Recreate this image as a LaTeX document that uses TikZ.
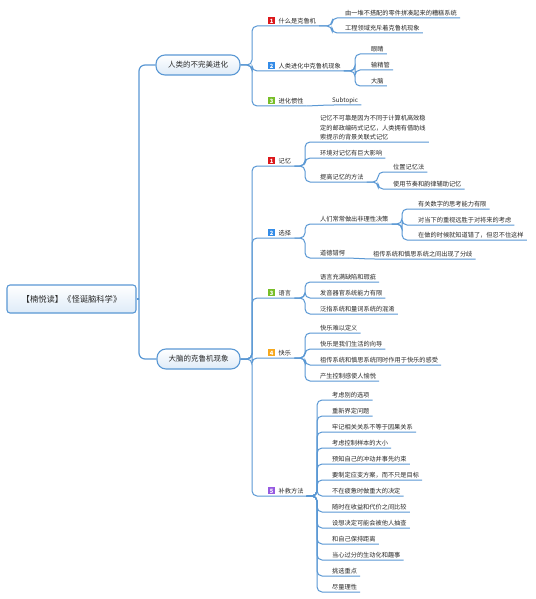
\documentclass[tikz,border=0pt]{standalone}
\usepackage{fontspec}
\setmainfont{Noto Sans CJK SC}
\usetikzlibrary{calc}
\definecolor{lnc}{RGB}{90,152,212}
\definecolor{txc}{RGB}{40,40,40}
\definecolor{ired}{RGB}{220,24,28}
\definecolor{iblue}{RGB}{52,140,232}
\definecolor{igreen}{RGB}{120,190,40}
\definecolor{iorange}{RGB}{246,168,30}
\definecolor{ipurple}{RGB}{150,90,225}
\definecolor{mfill}{RGB}{222,235,248}
\newcommand\icobox[2]{{\setlength{\fboxsep}{0pt}\raisebox{-0.8pt}{\colorbox{#1}{\makebox[7pt][c]{\rule{0pt}{7pt}\raisebox{1.2pt}{\color{white}\fontsize{5.8}{5.8}\selectfont\bfseries #2}}}}}\hspace{3.5pt}}
\newcommand\conA[3]{\draw[con] (#1.south east) -- (#1.south east -| #3) |- (#2.south east);}
\newcommand\conM[3]{\draw[con] (#1.east) -- (#1.east -| #3) |- (#2.south east);}
\tikzset{
  topic/.style={anchor=south west, inner xsep=3pt, inner ysep=2.2pt, text height=5pt, text depth=0pt,
    font=\fontsize{6.2}{7.5}\selectfont, text=txc},
  con/.style={draw=lnc, line width=1pt, rounded corners=5pt},
  mainbox/.style={draw=lnc, line width=1.1pt, rounded corners=9pt, top color=white, bottom color=mfill,
    minimum height=20pt, font=\fontsize{7.5}{9}\selectfont, text=txc, inner sep=0pt},
  rootbox/.style={draw=lnc, line width=1.1pt, rounded corners=3pt, top color=white, bottom color=mfill,
    minimum width=129pt, minimum height=28pt, font=\fontsize{8.3}{10}\selectfont, text=txc, inner sep=0pt}
}
\begin{document}
\begin{tikzpicture}[x=1pt,y=-1pt]
\useasboundingbox (0,0) rectangle (535,599);
\fill[white] (0,0) rectangle (535,599);
% trunk coordinates
\coordinate (t0) at (139,0);
\coordinate (t1) at (252,0);
\coordinate (t2) at (252,0);
\coordinate (tA1) at (332,0);
\coordinate (tA2) at (355,0);
\coordinate (tB) at (305,0);
\coordinate (tB13) at (378,0);
\coordinate (tB21) at (402,0);
\coordinate (tB5) at (317,0);
% root and main nodes
\node[rootbox] (R) at (71.5,299) {【楠悦读】《怪诞脑科学》};
\node[mainbox, minimum width=84pt] (M1) at (198,65) {人类的不完美进化};
\node[mainbox, minimum width=83pt] (M2) at (198.5,359) {大脑的克鲁机现象};
% main 1 branch
\node[topic] (A1) at (265,26) {\icobox{ired}{1}什么是克鲁机};
\node[topic] (A11) at (342,18) {由一堆不搭配的零件拼凑起来的糟糕系统};
\node[topic] (A12) at (342,33) {工程领域充斥着克鲁机现象};
\node[topic] (A2) at (265,71) {\icobox{iblue}{2}人类进化中克鲁机现象};
\node[topic] (A21) at (368,54) {眼睛};
\node[topic] (A22) at (368,70) {输精管};
\node[topic] (A23) at (368,86) {大脑};
\node[topic] (A3) at (265,106) {\icobox{igreen}{3}进化惯性};
\node[topic] (A31) at (329,105) {Subtopic};
% main 2 branch
\node[topic] (B1) at (265,166) {\icobox{ired}{1}记忆};
\node[anchor=south west, inner xsep=3pt, inner ysep=2.2pt, text depth=0pt, align=left,
  font=\fontsize{6.2}{9.6}\selectfont, text=txc] (B11) at (317,142)
  {记忆不可靠是因为不同于计算机高效稳\\定的邮政编码式记忆，人类拥有借助线\\索提示的背景关联式记忆};
\node[topic] (B12) at (317,158) {环境对记忆有巨大影响};
\node[topic] (B13) at (317,182) {提高记忆的方法};
\node[topic] (B131) at (390,172) {位置记忆法};
\node[topic] (B132) at (390,189) {使用节奏和韵律辅助记忆};
\node[topic] (B2) at (265,238) {\icobox{iblue}{2}选择};
\node[topic] (B21) at (317,224) {人们常常做出非理性决策};
\node[topic] (B211) at (415,209) {有关数字的思考能力有限};
\node[topic] (B212) at (415,225) {对当下的重视远胜于对将来的考虑};
\node[topic] (B213) at (415,240) {在做的时候就知道错了，但忍不住这样};
\node[topic] (B22) at (317,258) {道德错愕};
\node[topic] (B221) at (370,259) {祖传系统和慎思系统之间出现了分歧};
\node[topic] (B3) at (265,298) {\icobox{igreen}{3}语言};
\node[topic] (B31) at (317,282) {语言充满缺陷和瑕疵};
\node[topic] (B32) at (317,298) {发音器官系统能力有限};
\node[topic] (B33) at (317,314) {泛指系统和量词系统的混淆};
\node[topic] (B4) at (265,358) {\icobox{iorange}{4}快乐};
\node[topic] (B41) at (317,333) {快乐难以定义};
\node[topic] (B42) at (317,349) {快乐是我们生活的向导};
\node[topic] (B43) at (317,365) {祖传系统和慎思系统同时作用于快乐的感受};
\node[topic] (B44) at (317,381) {产生控制感使人愉悦};
\node[topic] (B5) at (265,496) {\icobox{ipurple}{5}补救方法};
\foreach \n/\t [count=\i from 0] in {
  C1/考虑别的选项, C2/重新界定问题, C3/牢记相关关系不等于因果关系, C4/考虑控制样本的大小,
  C5/预知自己的冲动并事先约束, C6/{要制定应变方案，而不只是目标}, C7/不在疲惫时做重大的决定,
  C8/随时在收益和代价之间比较, C9/设想决定可能会被他人抽查, C10/和自己保持距离,
  C11/当心过分的生动化和趣事, C12/挑选重点, C13/尽量理性}
  {\node[topic] (\n) at (329,{400+16*\i}) {\t};}
% root connectors
\draw[con, line width=1.2pt] (R.east) -- (R.east -| t0);
\draw[con, line width=1.2pt, rounded corners=6pt] (R.east -| t0) |- (M1.west);
\draw[con, line width=1.2pt, rounded corners=6pt] (R.east -| t0) |- (M2.west);
% main 1 connectors
\foreach \c in {A1,A2,A3} {\conM{M1}{\c}{t1}}
\foreach \c in {A11,A12} {\conA{A1}{\c}{tA1}}
\foreach \c in {A21,A22,A23} {\conA{A2}{\c}{tA2}}
\draw[con] (A3.south east) -- (A31.south west) -- (A31.south east);
% main 2 connectors
\foreach \c in {B1,B2,B3,B4,B5} {\conM{M2}{\c}{t2}}
\foreach \c in {B11,B12,B13} {\conA{B1}{\c}{tB}}
\foreach \c in {B131,B132} {\conA{B13}{\c}{tB13}}
\foreach \c in {B21,B22} {\conA{B2}{\c}{tB}}
\foreach \c in {B211,B212,B213} {\conA{B21}{\c}{tB21}}
\draw[con] (B22.south east) -- (B221.south west) -- (B221.south east);
\foreach \c in {B31,B32,B33} {\conA{B3}{\c}{tB}}
\foreach \c in {B41,B42,B43,B44} {\conA{B4}{\c}{tB}}
\foreach \c in {C1,C2,C3,C4,C5,C6,C7,C8,C9,C10,C11,C12,C13} {\conA{B5}{\c}{tB5}}
\end{tikzpicture}
\end{document}
